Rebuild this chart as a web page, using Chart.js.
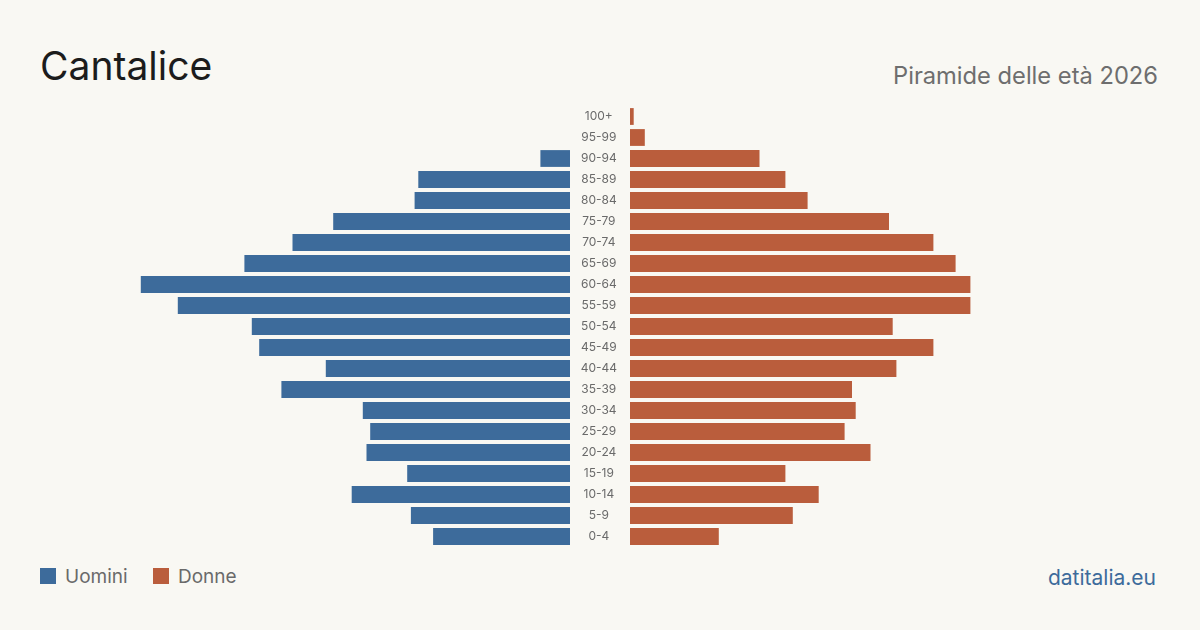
<!DOCTYPE html>
<html lang="it">
<head>
<meta charset="utf-8">
<title>Cantalice - Piramide delle età 2026</title>
<script src="https://cdn.jsdelivr.net/npm/chart.js@4.4.1/dist/chart.umd.min.js"></script>
<style>
  html, body { margin: 0; padding: 0; }
  body {
    width: 1200px; height: 630px; overflow: hidden;
    background: #f9f8f3; position: relative;
    font-family: Inter, "Noto Sans", sans-serif;
  }
  .abs { position: absolute; line-height: 1; white-space: nowrap; }
  #titolo { left: 40px; top: 46px; font-size: 39px; color: #1c1c1c; }
  #sottotitolo { right: 42px; top: 64px; font-size: 23.7px; color: #6e6e6e; }
  #fonte { right: 44px; top: 567px; font-size: 21px; color: #3d6b9b; }
  .leg { top: 567px; font-size: 19px; color: #6a6a6a; }
  .box { position: absolute; top: 568px; width: 16px; height: 16px; }
  #sinistra { position: absolute; left: 100px; top: 106px; }
  #destra { position: absolute; left: 570px; top: 106px; }
</style>
</head>
<body>
<div class="abs" id="titolo">Cantalice</div>
<div class="abs" id="sottotitolo">Piramide delle età 2026</div>

<canvas id="sinistra" width="470" height="441"></canvas>
<canvas id="destra" width="530" height="441"></canvas>

<div class="box" style="left:40px;background:#3d6b9b"></div>
<div class="abs leg" style="left:65px">Uomini</div>
<div class="box" style="left:153px;background:#ba5d3c"></div>
<div class="abs leg" style="left:178px">Donne</div>
<div class="abs" id="fonte">datitalia.eu</div>

<script>
// fasce d'età, dalla più anziana alla più giovane (come nel grafico)
const fasce = ['100+', '95-99', '90-94', '85-89', '80-84', '75-79', '70-74',
  '65-69', '60-64', '55-59', '50-54', '45-49', '40-44', '35-39', '30-34',
  '25-29', '20-24', '15-19', '10-14', '5-9', '0-4'];

// residenti per fascia
const uomini = [0, 0, 8, 41, 42, 64, 75, 88, 116, 106, 86, 84, 66, 78, 56, 54, 55, 44, 59, 43, 37];
const donne = [1, 4, 35, 42, 48, 70, 82, 88, 92, 92, 71, 82, 72, 60, 61, 58, 65, 42, 51, 44, 24];

const BLU = '#3d6b9b';
const ROSSO = '#ba5d3c';

// stessa scala per le due metà: 470px di area
const MAX_X = 470 / 3.7;

Chart.defaults.font.family = 'Inter, "Noto Sans", sans-serif';
Chart.defaults.animation = false;

function datiBarre(valori, colore, nome) {
  return {
    labels: fasce,
    datasets: [{
      label: nome,
      data: valori,
      backgroundColor: colore,
      borderWidth: 0,
      barPercentage: 0.8,
      categoryPercentage: 1
    }]
  };
}

const opzioniBase = {
  indexAxis: 'y',
  responsive: false,
  layout: { padding: 0 },
  plugins: { legend: { display: false }, tooltip: { enabled: false } }
};

const graficoUomini = new Chart(document.getElementById('sinistra'), {
  type: 'bar',
  data: datiBarre(uomini, BLU, 'Uomini'),
  options: {
    ...opzioniBase,
    scales: {
      x: { display: false, reverse: true, min: 0, max: MAX_X },
      y: { display: false }
    }
  }
});

const graficoDonne = new Chart(document.getElementById('destra'), {
  type: 'bar',
  data: datiBarre(donne, ROSSO, 'Donne'),
  options: {
    ...opzioniBase,
    scales: {
      x: { display: false, min: 0, max: MAX_X },
      y: {
        position: 'left',
        grid: { display: false, drawTicks: false },
        border: { display: false },
        ticks: {
          color: '#6a6a6a',
          font: { size: 12 },
          crossAlign: 'center',
          padding: 13,
          autoSkip: false
        },
        afterFit: function (axis) {
          // colonna centrale larga 60px, senza margini extra sopra e sotto
          axis.width = 60;
          axis.paddingTop = 0;
          axis.paddingBottom = 0;
        }
      }
    }
  }
});
</script>
</body>
</html>
